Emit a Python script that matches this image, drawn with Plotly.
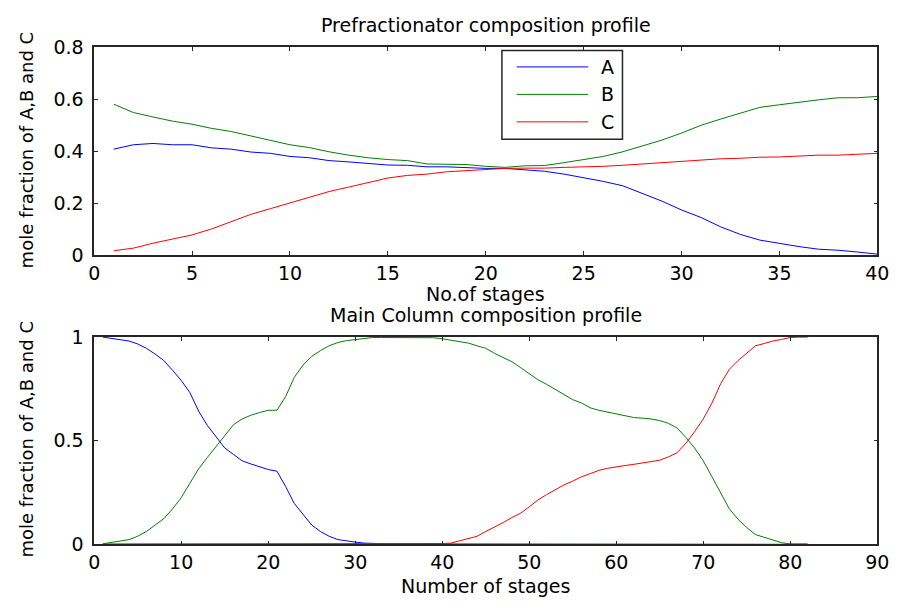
import plotly.graph_objects as go

# ---- Prefractionator (stages 1..40) ----
pre_stages = list(range(1, 41))
pre_A = [0.408, 0.425, 0.430, 0.425, 0.425, 0.413, 0.408, 0.397, 0.392, 0.380,
         0.375, 0.364, 0.359, 0.354, 0.347, 0.346, 0.340, 0.340, 0.336, 0.334,
         0.334, 0.328, 0.323, 0.312, 0.299, 0.284, 0.267, 0.239, 0.208, 0.174,
         0.145, 0.109, 0.080, 0.058, 0.045, 0.033, 0.023, 0.019, 0.012, 0.004]
pre_B = [0.581, 0.549, 0.532, 0.516, 0.504, 0.488, 0.476, 0.459, 0.443, 0.425,
         0.414, 0.398, 0.385, 0.375, 0.368, 0.364, 0.351, 0.351, 0.349, 0.342,
         0.338, 0.344, 0.345, 0.356, 0.368, 0.380, 0.398, 0.420, 0.443, 0.470,
         0.500, 0.524, 0.547, 0.569, 0.579, 0.589, 0.598, 0.606, 0.606, 0.611]
pre_C = [0.017, 0.027, 0.046, 0.062, 0.078, 0.101, 0.129, 0.157, 0.179, 0.202,
         0.224, 0.245, 0.262, 0.280, 0.297, 0.307, 0.312, 0.321, 0.325, 0.329,
         0.334, 0.335, 0.335, 0.338, 0.339, 0.342, 0.346, 0.351, 0.356, 0.361,
         0.365, 0.371, 0.373, 0.377, 0.378, 0.382, 0.385, 0.385, 0.389, 0.392]

# ---- Main column (stages 1..82) ----
main_stages = list(range(1, 83))
main_A = [1.000, 0.993, 0.987, 0.981, 0.967, 0.946, 0.918, 0.887, 0.840, 0.791,
          0.732, 0.643, 0.574, 0.519, 0.465, 0.434, 0.403, 0.388, 0.375, 0.361,
          0.353, 0.279, 0.197, 0.144, 0.093, 0.062, 0.039, 0.023, 0.016, 0.011,
          0.006, 0.004, 0.002, 0.002, 0.002, 0.002, 0.002, 0.002, 0.002, 0.002,
          0.002, 0.002, 0.002, 0.002, 0.002, 0.002, 0.002, 0.002, 0.002, 0.002,
          0.002, 0.002, 0.002, 0.002, 0.002, 0.002, 0.002, 0.002, 0.002, 0.002,
          0.002, 0.002, 0.002, 0.002, 0.002, 0.002, 0.002, 0.002, 0.002, 0.002,
          0.002, 0.002, 0.002, 0.002, 0.002, 0.002, 0.002, 0.002, 0.002, 0.001,
          0.000, 0.000]
main_B = [0.003, 0.008, 0.016, 0.023, 0.039, 0.062, 0.093, 0.124, 0.171, 0.225,
          0.295, 0.364, 0.419, 0.473, 0.527, 0.577, 0.605, 0.623, 0.636, 0.647,
          0.647, 0.713, 0.806, 0.865, 0.907, 0.935, 0.958, 0.974, 0.983, 0.989,
          0.995, 0.998, 0.998, 0.998, 0.998, 0.998, 0.998, 0.998, 0.997, 0.992,
          0.984, 0.977, 0.971, 0.958, 0.946, 0.922, 0.902, 0.881, 0.853, 0.825,
          0.794, 0.772, 0.747, 0.724, 0.698, 0.682, 0.659, 0.647, 0.639, 0.628,
          0.620, 0.612, 0.609, 0.605, 0.597, 0.584, 0.561, 0.516, 0.465, 0.403,
          0.326, 0.245, 0.171, 0.121, 0.081, 0.047, 0.034, 0.019, 0.008, 0.002,
          0.002, 0.002]
main_C = [0.002, 0.002, 0.002, 0.002, 0.002, 0.002, 0.002, 0.002, 0.002, 0.002,
          0.002, 0.002, 0.002, 0.002, 0.002, 0.002, 0.002, 0.002, 0.002, 0.002,
          0.002, 0.002, 0.002, 0.002, 0.002, 0.002, 0.002, 0.002, 0.002, 0.002,
          0.002, 0.002, 0.002, 0.002, 0.002, 0.002, 0.002, 0.002, 0.003, 0.004,
          0.006, 0.016, 0.026, 0.039, 0.062, 0.082, 0.105, 0.129, 0.150, 0.181,
          0.214, 0.240, 0.264, 0.287, 0.305, 0.326, 0.341, 0.357, 0.367, 0.375,
          0.380, 0.386, 0.392, 0.398, 0.406, 0.422, 0.442, 0.488, 0.543, 0.605,
          0.682, 0.775, 0.845, 0.887, 0.922, 0.958, 0.969, 0.981, 0.989, 0.998,
          1.000, 1.000]

names = ["A", "B", "C"]
colors = ["#0000FF", "#008000", "#FF0000"]
FONT = "DejaVu Sans, Verdana, sans-serif"
FS = 19
AXC = "#262626"

fig = go.Figure()
for name, col, ys in zip(names, colors, [pre_A, pre_B, pre_C]):
    fig.add_trace(go.Scatter(x=pre_stages, y=ys, mode="lines", name=name,
                             line=dict(color=col, width=1),
                             xaxis="x", yaxis="y", showlegend=False))
for name, col, ys in zip(names, colors, [main_A, main_B, main_C]):
    fig.add_trace(go.Scatter(x=main_stages, y=ys, mode="lines", name=name,
                             line=dict(color=col, width=1),
                             xaxis="x2", yaxis="y2", showlegend=False))

W, H = 904, 610
xdom = [90 / W, 889 / W]
top_dom = [(H - 253.3) / H, (H - 37.7) / H]
bot_dom = [(H - 553.3) / H, (H - 338.3) / H]

axis_common = dict(showline=True, linecolor=AXC, linewidth=1.5, mirror="ticks",
                   ticks="inside", ticklen=4, tickcolor=AXC, tickwidth=1,
                   showgrid=False, zeroline=False,
                   tickfont=dict(family=FONT, size=FS, color="black"))

fig.update_layout(
    width=W, height=H,
    margin=dict(l=0, r=0, t=0, b=0),
    paper_bgcolor="white", plot_bgcolor="white",
    showlegend=False,
    xaxis=dict(domain=xdom, range=[0, 40], dtick=5, tick0=0, anchor="y", **axis_common),
    yaxis=dict(domain=top_dom, range=[0, 0.8], dtick=0.2, tick0=0, anchor="x",
               ticklabelstandoff=5, **axis_common),
    xaxis2=dict(domain=xdom, range=[0, 90], dtick=10, tick0=0, anchor="y2", **axis_common),
    yaxis2=dict(domain=bot_dom, range=[0, 1], dtick=0.5, tick0=0, anchor="x2",
                ticklabelstandoff=5, **axis_common),
)

# Titles and axis labels
txt = dict(family=FONT, size=FS, color="black")
cx = (xdom[0] + xdom[1]) / 2
ann = [
    dict(text="Prefractionator composition profile", x=cx, y=1 - 15 / H),
    dict(text="No.of stages", x=cx, y=1 - 294 / H),
    dict(text="Main Column composition profile", x=cx, y=1 - 315 / H),
    dict(text="Number of stages", x=cx, y=1 - 597 / H),
]
for a in ann:
    fig.add_annotation(xref="paper", yref="paper", showarrow=False, font=txt,
                       xanchor="center", yanchor="middle", **a)
for yc in [144, 444]:
    fig.add_annotation(text="mole fraction of A,B and C", xref="paper", yref="paper",
                       x=21 / W, y=1 - yc / H, textangle=-90, showarrow=False,
                       font=dict(family=FONT, size=18, color="black"),
                       xanchor="center", yanchor="middle")

# Legend box for the prefractionator panel
lx0, lx1, ly0, ly1 = 506 / W, 629 / W, 1 - 133 / H, 1 - 41 / H
fig.add_shape(type="rect", xref="paper", yref="paper", x0=lx0, x1=lx1, y0=ly0, y1=ly1,
              line=dict(color=AXC, width=1.5), fillcolor="white", layer="above")
for i, (name, col) in enumerate(zip(names, colors)):
    yy = 1 - (58 + i * 28.5) / H
    fig.add_shape(type="line", xref="paper", yref="paper", x0=521 / W, x1=594 / W,
                  y0=yy, y1=yy, line=dict(color=col, width=1), layer="above")
    fig.add_annotation(text=name, xref="paper", yref="paper", x=605 / W, y=yy,
                       xanchor="left", yanchor="middle", showarrow=False, font=txt)

fig.write_html("out.html")
